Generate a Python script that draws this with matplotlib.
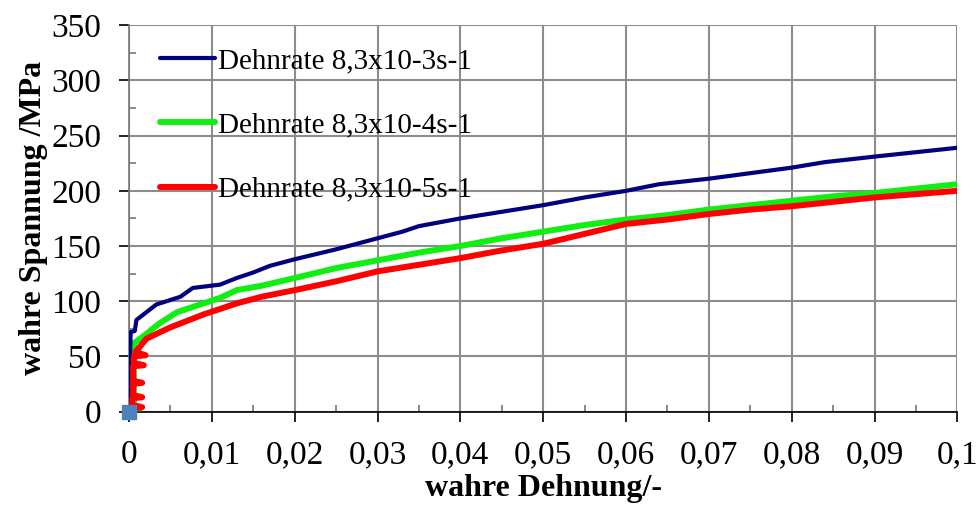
import matplotlib
matplotlib.use("Agg")
import matplotlib.pyplot as plt
from matplotlib.ticker import MultipleLocator

plt.rcParams['font.family'] = ['Liberation Serif', 'DejaVu Serif']

# true strain / true stress for three strain rates
strain_3 = [0.0, 0.0002, 0.0007, 0.0009, 0.0033, 0.0062, 0.0077, 0.011, 0.013,
            0.015, 0.017, 0.02, 0.025, 0.03, 0.033, 0.035, 0.04, 0.045, 0.05,
            0.055, 0.06, 0.064, 0.07, 0.075, 0.08, 0.084, 0.09, 0.095, 0.1]
stress_3 = [0, 72, 73, 83, 97, 104, 112, 115, 121,
            126, 132, 138, 147, 157, 163, 168, 175, 181, 187,
            194, 200, 206, 211, 216, 221, 226, 231, 235, 239]

strain_4 = [0.0005, 0.0005, 0.0014, 0.0006, 0.0006, 0.0017, 0.0037, 0.0058,
            0.009, 0.011, 0.013, 0.016, 0.02, 0.025, 0.03, 0.035, 0.04, 0.045,
            0.05, 0.055, 0.06, 0.065, 0.07, 0.075, 0.08, 0.085, 0.09, 0.095, 0.1]
stress_4 = [0, 3, 3, 5, 62, 68, 80, 90,
            98, 103, 110, 114, 121, 130, 137, 144, 150, 157,
            163, 169, 174, 178, 183, 187, 191, 195, 198, 202, 206]

strain_5 = [0.0002, 0.0004, 0.0016, 0.0004, 0.0004, 0.0016, 0.0005, 0.0005,
            0.0016, 0.0005, 0.0005, 0.0018, 0.0006, 0.0006, 0.0020, 0.0008,
            0.0021, 0.0049, 0.009, 0.013, 0.016, 0.02, 0.025, 0.03, 0.035,
            0.04, 0.045, 0.05, 0.055, 0.06, 0.065, 0.07, 0.075, 0.08, 0.085,
            0.09, 0.095, 0.1]
stress_5 = [0, 3, 4, 6, 12, 13, 15, 25,
            26, 28, 41, 42, 44, 50, 51, 54,
            66, 76, 88, 98, 104, 110, 118, 127, 133,
            139, 146, 152, 161, 170, 174, 179, 183, 186, 190,
            194, 197, 200]

labels = ["Dehnrate 8,3x10-3s-1", "Dehnrate 8,3x10-4s-1", "Dehnrate 8,3x10-5s-1"]

x_ticks = [0, 0.01, 0.02, 0.03, 0.04, 0.05, 0.06, 0.07, 0.08, 0.09, 0.1]
x_ticklabels = ["0", "0,01", "0,02", "0,03", "0,04", "0,05", "0,06", "0,07",
                "0,08", "0,09", "0,1"]
y_ticks = [0, 50, 100, 150, 200, 250, 300, 350]

fig = plt.figure(figsize=(9.77, 5.05), dpi=100)
ax = fig.add_axes([0.132, 0.185, 0.848, 0.765])

ax.plot(strain_3, stress_3, color="#000080", lw=3.0, solid_capstyle="round",
        label=labels[0], zorder=4)
ax.plot(strain_4, stress_4, color="#11ee11", lw=4.3, solid_capstyle="round",
        label=labels[1], zorder=3)
ax.plot(strain_5, stress_5, color="#ff0000", lw=4.3, solid_capstyle="round",
        solid_joinstyle="round", label=labels[2], zorder=5)
ax.plot([0], [0], "s", color="#4f81bd", ms=10, clip_on=False, zorder=6)

ax.set_xlim(0, 0.1)
ax.set_ylim(0, 350)
ax.set_xticks(x_ticks)
ax.set_xticklabels(x_ticklabels)
ax.set_yticks(y_ticks)
ax.xaxis.set_minor_locator(MultipleLocator(0.005))
ax.yaxis.set_minor_locator(MultipleLocator(25))

ax.grid(True, which="major", color="#8c8c8c", lw=1.5)
ax.set_axisbelow(True)
for side in ("top", "right"):
    ax.spines[side].set_visible(False)
ax.spines["bottom"].set_color("black")
ax.spines["bottom"].set_linewidth(1.2)
ax.spines["left"].set_color("#777777")
ax.spines["left"].set_linewidth(1.2)

ax.tick_params(which="major", direction="out", length=7, width=1.2,
               labelsize=24, color="black")
ax.tick_params(axis="x", which="major", pad=13)
ax.tick_params(axis="y", which="major", pad=13)
ax.tick_params(which="minor", direction="in", length=5, width=1.2,
               color="#777777")

ax.set_xlabel("wahre Dehnung/-", fontsize=23, fontweight="bold", labelpad=3)
ax.set_ylabel("wahre Spannung /MPa", fontsize=23, fontweight="bold", labelpad=2)

ax.legend(loc="upper left", bbox_to_anchor=(0.023, 0.972), frameon=False,
          fontsize=21, handlelength=1.9, handletextpad=0.1, labelspacing=1.3,
          borderaxespad=0.0)

fig.savefig("out.png", dpi=100)
